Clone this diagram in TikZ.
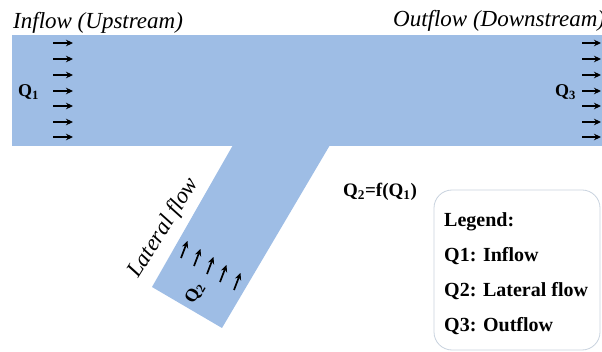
\documentclass[tikz,border=0pt]{standalone}
\usepackage{fontspec}
\setmainfont{Liberation Serif}
\usetikzlibrary{arrows.meta,calc}
\definecolor{water}{RGB}{158,189,229}
\definecolor{legendline}{RGB}{200,210,222}
\tikzset{
  flowarrow/.style={line width=1.7pt,-{Stealth[length=7pt,width=6.5pt]}},
  heading/.style={inner sep=0pt,font=\fontsize{23}{26}\selectfont\itshape},
  qlabel/.style={inner sep=0pt,font=\fontsize{18}{20}\selectfont\bfseries},
  legendtext/.style={inner sep=0pt,anchor=base west,font=\fontsize{20}{22}\selectfont\bfseries},
}
\begin{document}
\begin{tikzpicture}[x=1pt,y=-1pt]
\useasboundingbox (0,0) rectangle (602,352);

% channels
\fill[water] (12,35) rectangle (608,146);
\fill[water] (233,145) -- (152,287) -- (222,328) -- (330,145) -- cycle;

% headings
\node[heading,anchor=base west] (inflow) at (13,29) {Inflow (Upstream)};
\node[heading,anchor=base west] (outflow) at (393,27) {Outflow (Downstream)};
\node[heading,rotate=58,anchor=center] (lateral) at (164,228) {Lateral flow};

% upstream and downstream flow arrows
\foreach \yy [count=\i] in {43,59,75,91,106,122,137}{
  \coordinate (inA\i) at (53,\yy);
  \coordinate (inB\i) at (73,\yy);
  \draw[flowarrow] (inA\i) -- (inB\i);
  \coordinate (outA\i) at (582,\yy);
  \coordinate (outB\i) at (601,\yy);
  \draw[flowarrow] (outA\i) -- (outB\i);
}
\node[qlabel,anchor=base west] (q1) at (18,97) {Q\textsubscript{1}};
\node[qlabel,anchor=base west] (q3) at (555,97) {Q\textsubscript{3}};

% lateral inflow arrows
\foreach \xx/\yy [count=\i] in {181/258,194/266,207/274,220/282,234/290}{
  \coordinate (latA\i) at (\xx,\yy);
  \coordinate (latB\i) at ($(\xx,\yy)+(6.5,-17)$);
  \draw[flowarrow] (latA\i) -- (latB\i);
}
\node[inner sep=0pt,rotate=60,font=\fontsize{18}{20}\selectfont\bfseries] (q2) at (195,293) {Q\textsubscript{2}};

% relation
\node[inner sep=0pt,anchor=base west,font=\fontsize{19}{21}\selectfont\bfseries] (rel) at (343,197) {Q\textsubscript{2}=f(Q\textsubscript{1})};

% legend
\draw[legendline,line width=0.8pt,rounded corners=18pt] (434,190) rectangle (600,350);
\node[legendtext] (lg0) at (444,227) {Legend:};
\node[legendtext] (lg1) at (444,262) {Q1: Inflow};
\node[legendtext] (lg2) at (444,297) {Q2: Lateral flow};
\node[legendtext] (lg3) at (444,332) {Q3: Outflow};
\end{tikzpicture}
\end{document}
